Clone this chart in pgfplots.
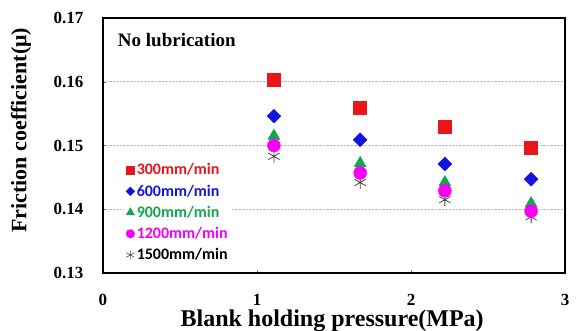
\documentclass[border=0pt]{standalone}
\usepackage{fontspec}
\setmainfont{Liberation Serif}
\newfontfamily\legfont{Carlito}
\usepackage{pgfplots}
\pgfplotsset{compat=1.18}
\definecolor{cRed}{RGB}{235,20,25}
\definecolor{cBlue}{RGB}{20,20,225}
\definecolor{cGreen}{RGB}{20,165,80}
\definecolor{cMag}{RGB}{245,0,245}
\definecolor{cAst}{RGB}{70,70,70}
\begin{document}
\begin{tikzpicture}
\path[use as bounding box] (-103pt,-58pt) rectangle (474pt,273pt);
\begin{axis}[
  at={(0pt,0pt)}, anchor=south west,
  scale only axis, width=462pt, height=255pt,
  xmin=0, xmax=3, ymin=0.13, ymax=0.17,
  xtick={0,1,2,3}, ytick={0.13,0.14,0.15,0.16,0.17},
  yticklabel style={/pgf/number format/fixed, /pgf/number format/precision=2, /pgf/number format/fixed zerofill, xshift=-16pt},
  xticklabel style={inner sep=0pt, text depth=0pt, yshift=-21pt},
  /pgf/number format/assume math mode=true,
  tick label style={font=\bfseries\fontsize{17}{17}\selectfont},
  tick align=inside, xtick pos=bottom, ytick pos=left,
  major tick length=3pt,
  axis line style={line width=1.2pt},
  ymajorgrids, major grid style={densely dotted, gray!55, line width=0.6pt},
  every axis x label/.style={at={(rel axis cs:0.496,0)}, yshift=-48pt, anchor=center, inner sep=0pt},
  every axis y label/.style={at={(rel axis cs:0,0.56)}, xshift=-82pt, rotate=90, anchor=center},
  xlabel={\bfseries\fontsize{24}{24}\selectfont Blank holding pressure(MPa)},
  ylabel={\bfseries\fontsize{22}{22}\selectfont Friction coefficient(μ)},
  legend style={at={(rel axis cs:0.045,0.445)}, anchor=north west, draw=none, fill=white,
    font=\legfont\bfseries\fontsize{16}{16}\selectfont, row sep=4.5pt, inner sep=2pt},
  legend cell align=left,
  legend image code/.code={\draw[mark repeat=2,mark phase=2,#1] plot coordinates {(0cm,0cm) (0.15cm,0cm) (0.4cm,0cm)};},
]
% z-order: asterisk, triangle, circle, diamond, square
\addplot[only marks, mark=asterisk, mark size=6.5pt, cAst, line width=0.8pt, forget plot]
  coordinates {(1.11,0.1483) (1.67,0.1442) (2.22,0.1415) (2.78,0.1388)};
\addplot[only marks, mark=triangle*, mark size=7pt, cGreen, forget plot]
  coordinates {(1.11,0.1515) (1.67,0.1472) (2.22,0.1442) (2.78,0.1409)};
\addplot[only marks, mark=*, mark size=6.5pt, cMag, forget plot]
  coordinates {(1.11,0.1500) (1.67,0.1457) (2.22,0.1429) (2.78,0.1397)};
\addplot[only marks, mark=square*, mark size=4.9pt, mark options={rotate=45}, cBlue, forget plot]
  coordinates {(1.11,0.1546) (1.67,0.1509) (2.22,0.1471) (2.78,0.1447)};
\addplot[only marks, mark=square*, mark size=6.5pt, cRed, forget plot]
  coordinates {(1.11,0.1603) (1.67,0.1559) (2.22,0.1530) (2.78,0.1497)};
\addlegendimage{only marks, mark=square*, mark size=4.3pt, cRed}
\addlegendentry{\textcolor{cRed}{300mm/min}}
\addlegendimage{only marks, mark=square*, mark size=3.1pt, mark options={rotate=45}, cBlue}
\addlegendentry{\textcolor{cBlue}{600mm/min}}
\addlegendimage{only marks, mark=triangle*, mark size=4.8pt, cGreen}
\addlegendentry{\textcolor{cGreen}{900mm/min}}
\addlegendimage{only marks, mark=*, mark size=4.3pt, cMag}
\addlegendentry{\textcolor{cMag}{1200mm/min}}
\addlegendimage{only marks, mark=asterisk, mark size=4.5pt, cAst, line width=0.6pt}
\addlegendentry{\textcolor{black}{1500mm/min}}
\node[anchor=west, inner sep=0pt, font=\bfseries\fontsize{19}{19}\selectfont] at (rel axis cs:0.032,0.914) {No lubrication};
\end{axis}
\end{tikzpicture}
\end{document}
